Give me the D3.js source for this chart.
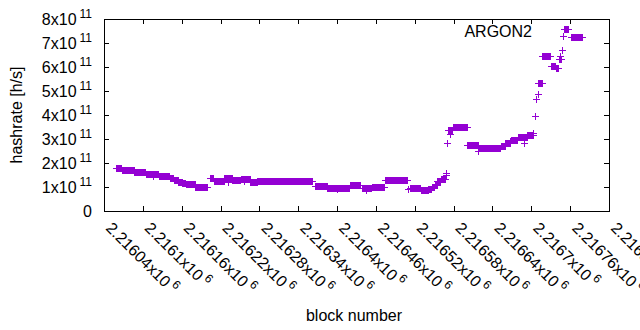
<!DOCTYPE html>
<html>
<head>
<meta charset="utf-8">
<script src="https://cdn.jsdelivr.net/npm/d3@7"></script>
<style>
  body { margin: 0; background: #fff; }
  svg { display: block; font-family: "Liberation Sans", Arial, sans-serif; }
  text { fill: #000; }
</style>
</head>
<body>
<script>
"use strict";

///////////////////
// data
///////////////////

// runs of blocks with the same hashrate estimate (first block, last block, h/s)
var runStart = [2216058, 2216068, 2216087, 2216105, 2216116, 2216125, 2216142, 2216148, 2216155, 2216161,
                2216166, 2216181, 2216204, 2216210, 2216226, 2216238, 2216251, 2216266, 2216277, 2216366,
                2216385, 2216420, 2216438, 2216454, 2216474, 2216513, 2216529, 2216541, 2216546, 2216551,
                2216555, 2216560, 2216571, 2216579, 2216601, 2216619, 2216653, 2216660, 2216668, 2216679,
                2216694, 2216711, 2216717, 2216731, 2216738, 2216742, 2216751, 2216761];
var runEnd   = [2216067, 2216086, 2216104, 2216115, 2216124, 2216141, 2216147, 2216154, 2216160, 2216165,
                2216180, 2216199, 2216209, 2216225, 2216237, 2216250, 2216265, 2216276, 2216362, 2216384,
                2216418, 2216436, 2216452, 2216472, 2216508, 2216528, 2216540, 2216545, 2216550, 2216554,
                2216559, 2216567, 2216577, 2216600, 2216618, 2216652, 2216659, 2216667, 2216678, 2216693,
                2216702, 2216716, 2216729, 2216737, 2216741, 2216746, 2216757, 2216779];
var runRate  = [1.81e11, 1.71e11, 1.61e11, 1.53e11, 1.55e11, 1.45e11, 1.38e11, 1.30e11, 1.22e11, 1.15e11,
                1.11e11, 0.99e11, 1.36e11, 1.25e11, 1.36e11, 1.29e11, 1.33e11, 1.22e11, 1.24e11, 1.04e11,
                0.95e11, 1.08e11, 0.95e11, 0.99e11, 1.29e11, 0.94e11, 0.86e11, 0.92e11, 1.00e11, 1.10e11,
                1.25e11, 1.35e11, 3.37e11, 3.49e11, 2.75e11, 2.61e11, 2.70e11, 2.85e11, 2.96e11, 3.08e11,
                3.17e11, 5.33e11, 6.46e11, 6.06e11, 5.96e11, 6.33e11, 7.57e11, 7.24e11];

// single blocks off the runs
var extraBlock = [2216115, 2216232, 2216256, 2216400, 2216445, 2216510, 2216568, 2216569, 2216570, 2216574,
                  2216618, 2216667, 2216689, 2216703, 2216706, 2216708, 2216710, 2216744, 2216748, 2216749];
var extraRate  = [1.45e11, 1.22e11, 1.27e11, 0.90e11, 0.88e11, 0.90e11, 1.48e11, 1.57e11, 2.82e11, 3.20e11,
                  2.50e11, 2.92e11, 2.83e11, 3.24e11, 3.97e11, 4.65e11, 4.87e11, 6.47e11, 6.70e11, 7.30e11];

var xTicks = [2216040, 2216100, 2216160, 2216220, 2216280, 2216340, 2216400,
              2216460, 2216520, 2216580, 2216640, 2216700, 2216760, 2216820];
var yTicks = [0, 1e11, 2e11, 3e11, 4e11, 5e11, 6e11, 7e11, 8e11];

var seriesTitle = "ARGON2";
var xTitle = "block number";
var yTitle = "hashrate [h/s]";

///////////////////
// layout
///////////////////

var width = 640, height = 330;
var margin = {top: 19, right: 31, bottom: 119, left: 104};
var color = "#9400d3";
var tickLen = 5;
var markSize = 3.5; // half length of the + arms
var fontSize = 16, supSize = 12;

// one point per block inside each run, plus the single ones
var points = [];
runStart.forEach(function(s, i) {
    for (var b = s; b <= runEnd[i]; b++) {
        points.push({block: b, rate: runRate[i]});
    }
});
extraBlock.forEach(function(b, i) {
    points.push({block: b, rate: extraRate[i]});
});

var x = d3.scaleLinear()
    .domain([xTicks[0], xTicks[xTicks.length - 1]])
    .range([margin.left, width - margin.right]);
var y = d3.scaleLinear()
    .domain([yTicks[0], yTicks[yTicks.length - 1]])
    .range([height - margin.bottom, margin.top]);

var svg = d3.select("body")
    .append("svg")
    .attr("width", width)
    .attr("height", height);

///////////////////
// axes
///////////////////

// ticks point inwards and are mirrored on the opposite side
var xAxis = d3.axisBottom(x).tickValues(xTicks).tickSize(-tickLen).tickFormat("");
var xAxisTop = d3.axisTop(x).tickValues(xTicks).tickSize(-tickLen).tickFormat("");
var yAxis = d3.axisLeft(y).tickValues(yTicks).tickSize(-tickLen).tickFormat("");
var yAxisRight = d3.axisRight(y).tickValues(yTicks).tickSize(-tickLen).tickFormat("");

function styleAxis(g) {
    g.select(".domain").remove();
    g.selectAll(".tick line").attr("stroke", "#000").attr("shape-rendering", "crispEdges");
}

svg.append("g").attr("transform", "translate(0," + y.range()[0] + ")").call(xAxis).call(styleAxis);
svg.append("g").attr("transform", "translate(0," + y.range()[1] + ")").call(xAxisTop).call(styleAxis);
svg.append("g").attr("transform", "translate(" + x.range()[0] + ",0)").call(yAxis).call(styleAxis);
svg.append("g").attr("transform", "translate(" + x.range()[1] + ",0)").call(yAxisRight).call(styleAxis);

svg.append("rect")
    .attr("x", x.range()[0] + 0.5)
    .attr("y", y.range()[1] + 0.5)
    .attr("width", x.range()[1] - x.range()[0])
    .attr("height", y.range()[0] - y.range()[1])
    .attr("fill", "none")
    .attr("stroke", "#000");

// y tick labels: mantissa x10 with superscript exponent
var yLabels = svg.selectAll("text.ytick")
    .data(yTicks)
    .enter()
    .append("text")
    .attr("class", "ytick")
    .attr("x", x.range()[0] - 12)
    .attr("y", function(d) { return y(d) + 6; })
    .attr("text-anchor", "end")
    .style("font-size", fontSize + "px");
yLabels.each(function(d) {
    var t = d3.select(this);
    if (d === 0) {
        t.text("0");
        return;
    }
    var exp = Math.floor(Math.log10(d));
    t.append("tspan").text(Math.round(d / Math.pow(10, exp)) + "x10");
    t.append("tspan").attr("dx", 3).attr("dy", -7).style("font-size", supSize + "px").text(exp);
});

// x tick labels, rotated down to the right
svg.selectAll("text.xtick")
    .data(xTicks)
    .enter()
    .append("text")
    .attr("class", "xtick")
    .attr("transform", function(d) { return "translate(" + (x(d) + 1) + "," + (y.range()[0] + 18) + ") rotate(45)"; })
    .style("font-size", fontSize + "px")
    .each(function(d) {
        var t = d3.select(this);
        t.append("tspan").text(String(+(d / 1e6).toFixed(5)) + "x10");
        t.append("tspan").attr("dx", 3).attr("dy", -7).style("font-size", supSize + "px").text("6");
    });

// axis titles
svg.append("text")
    .attr("x", 354)
    .attr("y", 321)
    .attr("text-anchor", "middle")
    .style("font-size", fontSize + "px")
    .text(xTitle);
svg.append("text")
    .attr("transform", "translate(22," + ((y.range()[0] + y.range()[1]) / 2) + ") rotate(-90)")
    .attr("text-anchor", "middle")
    .style("font-size", fontSize + "px")
    .text(yTitle);

// key title
svg.append("text")
    .attr("x", 532)
    .attr("y", 37)
    .attr("text-anchor", "end")
    .style("font-size", fontSize + "px")
    .text(seriesTitle);

///////////////////
// points
///////////////////

svg.append("g")
    .selectAll("path")
    .data(points)
    .enter()
    .append("path")
    .attr("transform", function(d) {
        return "translate(" + (Math.round(x(d.block)) + 0.5) + "," + (Math.round(y(d.rate)) + 0.5) + ")";
    })
    .attr("d", "M" + (-markSize) + ",0H" + markSize + "M0," + (-markSize) + "V" + markSize)
    .attr("fill", "none")
    .attr("stroke", color)
    .attr("stroke-width", 1);
</script>
</body>
</html>
